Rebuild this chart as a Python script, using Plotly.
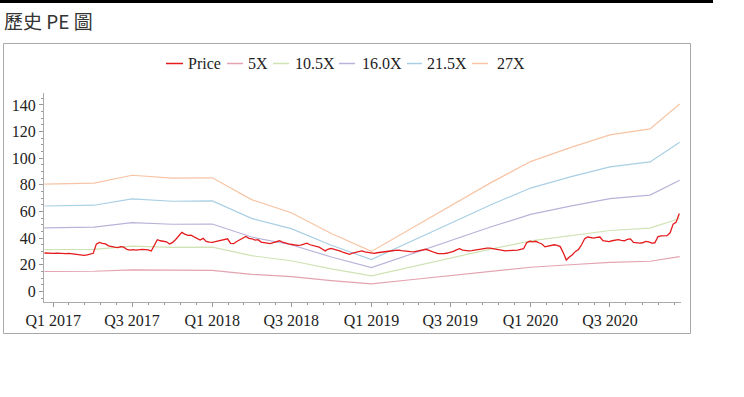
import pandas as pd
import plotly.graph_objects as go

# ---------------- data ----------------
price_start = "2016-12-12"   # weekly closing-price readings
price = [
    28.8, 28.6, 28.8, 28.5, 28.7, 28.4, 28.6, 28.3, 28.5, 28.2,
    28.0, 27.6, 27.2, 27.0, 27.4, 27.8, 28.6, 35.5, 36.8, 36.0,
    35.6, 34.2, 33.5, 33.2, 32.8, 33.6, 33.2, 31.5, 31.0, 31.3,
    31.0, 31.4, 31.6, 31.4, 31.2, 30.3, 34.5, 38.8, 38.0, 37.6,
    37.2, 35.5, 36.8, 39.0, 42.0, 44.3, 43.0, 42.0, 42.2, 40.8,
    40.0, 38.5, 39.8, 37.5, 37.0, 36.8, 37.3, 37.8, 38.5, 39.2,
    39.5, 36.0, 35.8, 37.5, 38.8, 40.5, 41.2, 39.8, 39.5, 38.5,
    38.8, 37.0, 36.6, 36.2, 35.9, 36.6, 37.2, 38.0, 37.0, 36.0,
    35.6, 35.2, 34.8, 34.5, 34.8, 35.3, 36.2, 35.0, 34.4, 33.8,
    33.2, 31.8, 30.4, 31.8, 32.2, 31.6, 30.6, 30.2, 29.2, 28.6,
    27.8, 28.8, 29.5, 30.0, 30.4, 29.6, 29.2, 28.8, 28.6, 29.0,
    29.2, 29.6, 30.0, 30.2, 30.5, 30.8, 31.0, 30.6, 30.2, 30.0,
    29.8, 29.6, 30.2, 30.4, 31.2, 31.6, 30.8, 29.6, 29.0, 28.4,
    28.2, 28.4, 28.8, 29.4, 30.0, 31.2, 32.0, 31.0, 30.6, 30.4,
    30.6, 31.0, 31.3, 31.8, 32.0, 32.5, 32.4, 32.0, 31.3, 31.0,
    30.6, 30.4, 30.6, 30.8, 30.6, 31.0, 31.6, 32.0, 36.5, 37.6,
    37.2, 37.6, 36.5, 35.6, 33.4, 33.8, 34.4, 35.0, 34.6, 33.6,
    29.0, 23.5, 25.8, 27.5, 30.0, 31.5, 35.0, 39.5, 40.8, 40.2,
    40.0, 40.5, 40.8, 38.0, 37.6, 37.4, 38.0, 38.6, 38.8, 38.3,
    38.0, 39.0, 39.4, 36.8, 36.3, 36.2, 36.5, 37.5, 37.2, 36.3,
    36.5, 41.0, 41.6, 41.6, 41.8, 44.0, 50.5, 52.0, 58.5,
]

band_dates = ["2016-12-12", "2017-04-05", "2017-07-01", "2017-10-01", "2018-01-01",
              "2018-04-01", "2018-07-01", "2018-10-01", "2019-01-01", "2019-04-01",
              "2019-07-01", "2019-10-01", "2020-01-01", "2020-04-01", "2020-07-01",
              "2020-10-01", "2020-12-08"]
band_5x = [14.9, 15.1, 16.2, 15.8, 15.8, 12.8, 11.0, 8.1, 5.6, 8.7,
           11.9, 15.1, 18.1, 20.0, 21.8, 22.6, 26.1]
band_10_5x = [31.3, 31.6, 33.9, 33.1, 33.2, 26.8, 23.0, 16.9, 11.7, 18.3,
              25.0, 31.7, 37.9, 42.0, 45.7, 47.5, 54.7]
band_16x = [47.7, 48.2, 51.7, 50.4, 50.6, 40.8, 35.0, 25.8, 17.8, 27.8,
            38.1, 48.3, 57.8, 64.0, 69.6, 72.3, 83.4]
band_21_5x = [64.1, 64.7, 69.4, 67.7, 67.9, 54.8, 47.1, 34.6, 23.9, 37.4,
              51.2, 64.9, 77.6, 86.0, 93.5, 97.2, 112.0]
band_27x = [80.5, 81.3, 87.2, 85.1, 85.3, 68.9, 59.1, 43.5, 30.0, 47.0,
            64.3, 81.5, 97.5, 108.0, 117.5, 122.0, 140.7]

series_names = ["Price", "5X", "10.5X", "16.0X", "21.5X", "27X"]
tick_dates = ["2017-01-01", "2017-07-01", "2018-01-01", "2018-07-01",
              "2019-01-01", "2019-07-01", "2020-01-01", "2020-07-01"]
tick_labels = ["Q1 2017", "Q3 2017", "Q1 2018", "Q3 2018",
               "Q1 2019", "Q3 2019", "Q1 2020", "Q3 2020"]
y_ticks = [0, 20, 40, 60, 80, 100, 120, 140]
title_text = "歷史 PE 圖"

# ---------------- style ----------------
colors = ["#e41a1c", "#e3a3b1", "#cfe3b5", "#b9b2d9", "#a9cfe4", "#f7c4a4"]
SERIF = "Liberation Serif"
W, H = 744, 397
L, R, T, B = 44, 681, 93, 302


def px(x):
    return (x - L) / (R - L)


def py(y):
    return (B - y) / (B - T)


price_dates = pd.date_range(price_start, periods=len(price), freq="7D")
bands = [band_5x, band_10_5x, band_16x, band_21_5x, band_27x]

fig = go.Figure()
for name, vals, col in zip(series_names[1:], bands, colors[1:]):
    fig.add_trace(go.Scatter(x=pd.to_datetime(band_dates), y=vals, mode="lines",
                             name=name, line=dict(color=col, width=1.2)))
fig.add_trace(go.Scatter(x=price_dates, y=price, mode="lines", name="Price",
                         line=dict(color=colors[0], width=1.3)))

# minor x ticks: 5 divisions per half year
bounds = pd.to_datetime(["2016-07-01"] + tick_dates + ["2021-01-01"])
minor_x = []
for a, b in zip(bounds[:-1], bounds[1:]):
    for i in range(1, 5):
        minor_x.append(a + (b - a) * i / 5)

shapes = [
    dict(type="rect", xref="paper", yref="paper", x0=px(3.5), x1=px(690.5),
         y0=py(333.5), y1=py(43.5), line=dict(color="#a8a8a8", width=1), layer="below"),
    dict(type="rect", xref="paper", yref="paper", x0=px(0), x1=px(713),
         y0=py(3), y1=py(0), line=dict(width=0), fillcolor="black"),
]
annotations = [
    dict(text=title_text, xref="paper", yref="paper", x=px(2), y=py(20),
         xanchor="left", yanchor="middle", showarrow=False,
         font=dict(family="Noto Sans CJK TC", size=19, color="#333"))
]

legend_pos = [(166, 183, 186), (227, 243, 246), (273, 289, 293),
              (339, 355, 360), (407, 422, 425), (472, 488, 495)]
ly = py(63.5)
for name, col, (a, b, c) in zip(series_names, colors, legend_pos):
    shapes.append(dict(type="line", xref="paper", yref="paper", x0=px(a), x1=px(b),
                       y0=ly, y1=ly, line=dict(color=col, width=1.5)))
    annotations.append(dict(text=name, xref="paper", yref="paper", x=px(c), y=ly,
                            xanchor="left", yanchor="middle", showarrow=False,
                            font=dict(family=SERIF, size=16, color="#222")))

fig.update_layout(
    width=W, height=H,
    margin=dict(l=L, r=W - R, t=T, b=H - B, pad=0),
    paper_bgcolor="white", plot_bgcolor="white",
    showlegend=False,
    shapes=shapes, annotations=annotations,
    font=dict(family=SERIF, size=16, color="#222"),
)
fig.update_xaxes(
    type="date", range=["2016-12-11", "2020-12-11"],
    tickmode="array", tickvals=tick_dates, ticktext=tick_labels,
    ticks="outside", ticklen=4, tickcolor="#999", tickwidth=1,
    showline=True, linecolor="#aaa", linewidth=1,
    showgrid=False, zeroline=False,
    minor=dict(tickvals=minor_x, ticks="outside", ticklen=2, tickcolor="#999"),
    tickfont=dict(family=SERIF, size=16, color="#222"),
)
fig.update_yaxes(
    range=[-8, 149], tickmode="array", tickvals=y_ticks,
    ticks="outside", ticklen=4, tickcolor="#999", tickwidth=1,
    showline=True, linecolor="#aaa", linewidth=1,
    showgrid=False, zeroline=False,
    minor=dict(dtick=5, tick0=0, ticks="outside", ticklen=2, tickcolor="#999"),
    tickfont=dict(family=SERIF, size=16, color="#222"),
)

fig.write_html("out.html", config={"displayModeBar": False},
               post_script="document.body.style.margin='0';")
